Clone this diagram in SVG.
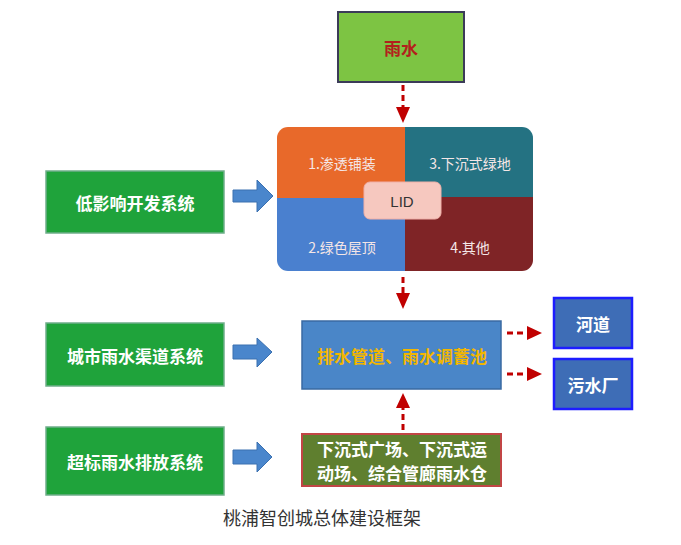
<svg xmlns="http://www.w3.org/2000/svg" width="681" height="545" viewBox="0 0 681 545">
<style>
  .cjk { font-family: "Noto Sans CJK SC", "Liberation Sans", sans-serif; }
  .lbl { font-family: "Noto Sans CJK SC", sans-serif; font-weight: bold; font-size: 17px; text-anchor: middle; dominant-baseline: central; }
  .quad { font-family: "Noto Sans CJK SC", sans-serif; font-size: 14px; fill: #f4e6e6; text-anchor: middle; dominant-baseline: central; }
  .gbox { fill: #1fa33b; stroke: #6fae8a; stroke-width: 1.5; }
  .rbox { fill: #3e6db6; stroke: #1d1dff; stroke-width: 2.5; }
  .bigarrow { fill: #4a86cc; stroke: #3a70b0; stroke-width: 1; }
  .dash { stroke: #c00000; stroke-width: 3; stroke-dasharray: 6 4; fill: none; }
  .head { fill: #c00000; }
</style>
<rect width="681" height="545" fill="#ffffff"/>

<g id="rain">
  <rect x="338" y="12" width="126" height="70" fill="#7dc443" stroke="#3b3b58" stroke-width="2"/>
  <text x="401" y="47" class="lbl" fill="#b3201c" font-size="18">雨水</text>
</g>

<g id="lid">
  <path d="M288,127 H405 V198 H277 V138 A11,11 0 0 1 288,127 Z" fill="#e8692a"/>
  <path d="M405,127 H522 A11,11 0 0 1 533,138 V197 H405 Z" fill="#247282"/>
  <path d="M277,198 H405 V271 H288 A11,11 0 0 1 277,260 Z" fill="#4a80cf"/>
  <path d="M405,197 H533 V260 A11,11 0 0 1 522,271 H405 Z" fill="#7f2426"/>
  <text x="342" y="163" class="quad">1.渗透铺装</text>
  <text x="470" y="163" class="quad">3.下沉式绿地</text>
  <text x="342" y="247" class="quad">2.绿色屋顶</text>
  <text x="470" y="247" class="quad">4.其他</text>
  <rect x="364" y="182" width="77" height="37" rx="6" fill="#f6c8bf" stroke="#f0b0a8" stroke-width="1"/>
  <text x="402" y="201" font-family="Liberation Sans, sans-serif" font-size="15" fill="#333" text-anchor="middle" dominant-baseline="central">LID</text>
</g>

<g id="low-impact">
  <rect x="46" y="171" width="178" height="62" class="gbox"/>
  <text x="135" y="202" class="lbl" fill="#ffffff">低影响开发系统</text>
</g>

<g id="urban-channel">
  <rect x="46" y="323" width="178" height="63" class="gbox"/>
  <text x="135" y="355" class="lbl" fill="#ffffff">城市雨水渠道系统</text>
</g>

<g id="excess">
  <rect x="46" y="427" width="178" height="68" class="gbox"/>
  <text x="135" y="461" class="lbl" fill="#ffffff">超标雨水排放系统</text>
</g>

<g id="pipes">
  <rect x="302" y="321" width="199" height="68" fill="#4a86c8" stroke="#3a6aa2" stroke-width="1.5"/>
  <text x="402" y="355" class="lbl" fill="#f2b600">排水管道、雨水调蓄池</text>
</g>

<g id="river">
  <rect x="554" y="298" width="78" height="50" class="rbox"/>
  <text x="593" y="323" class="lbl" fill="#ffffff">河道</text>
</g>

<g id="sewage">
  <rect x="554" y="359" width="78" height="50" class="rbox"/>
  <text x="593" y="384" class="lbl" fill="#ffffff">污水厂</text>
</g>

<g id="sunken">
  <rect x="302" y="434" width="199" height="52" fill="#5f7f2f" stroke="#c24545" stroke-width="2"/>
  <text x="402" y="448" class="lbl" font-size="16" fill="#ffffff">下沉式广场、下沉式运</text>
  <text x="402" y="472" class="lbl" font-size="16" fill="#ffffff">动场、综合管廊雨水仓</text>
</g>

<g id="connectors">
  <line x1="403" y1="85" x2="403" y2="108" class="dash"/>
  <polygon points="396,107 410,107 403,123" class="head"/>
  <line x1="403" y1="277" x2="403" y2="294" class="dash"/>
  <polygon points="396,293 410,293 403,309" class="head"/>
  <line x1="403" y1="430" x2="403" y2="408" class="dash"/>
  <polygon points="396,408 410,408 403,393" class="head"/>
  <line x1="507" y1="333" x2="528" y2="333" class="dash"/>
  <polygon points="527,326 527,340 542,333" class="head"/>
  <line x1="507" y1="374" x2="528" y2="374" class="dash"/>
  <polygon points="527,367 527,381 542,374" class="head"/>
  <polygon points="233,190 257,190 257,180 273,196 257,212 257,202 233,202" class="bigarrow"/>
  <polygon points="233,345 257,345 257,338 272,352 257,367 257,359 233,359" class="bigarrow"/>
  <polygon points="233,450 257,450 257,442 272,457 257,472 257,464 233,464" class="bigarrow"/>
</g>

<text x="322" y="517" class="cjk" font-size="18" fill="#333333" text-anchor="middle" dominant-baseline="central">桃浦智创城总体建设框架</text>
</svg>
